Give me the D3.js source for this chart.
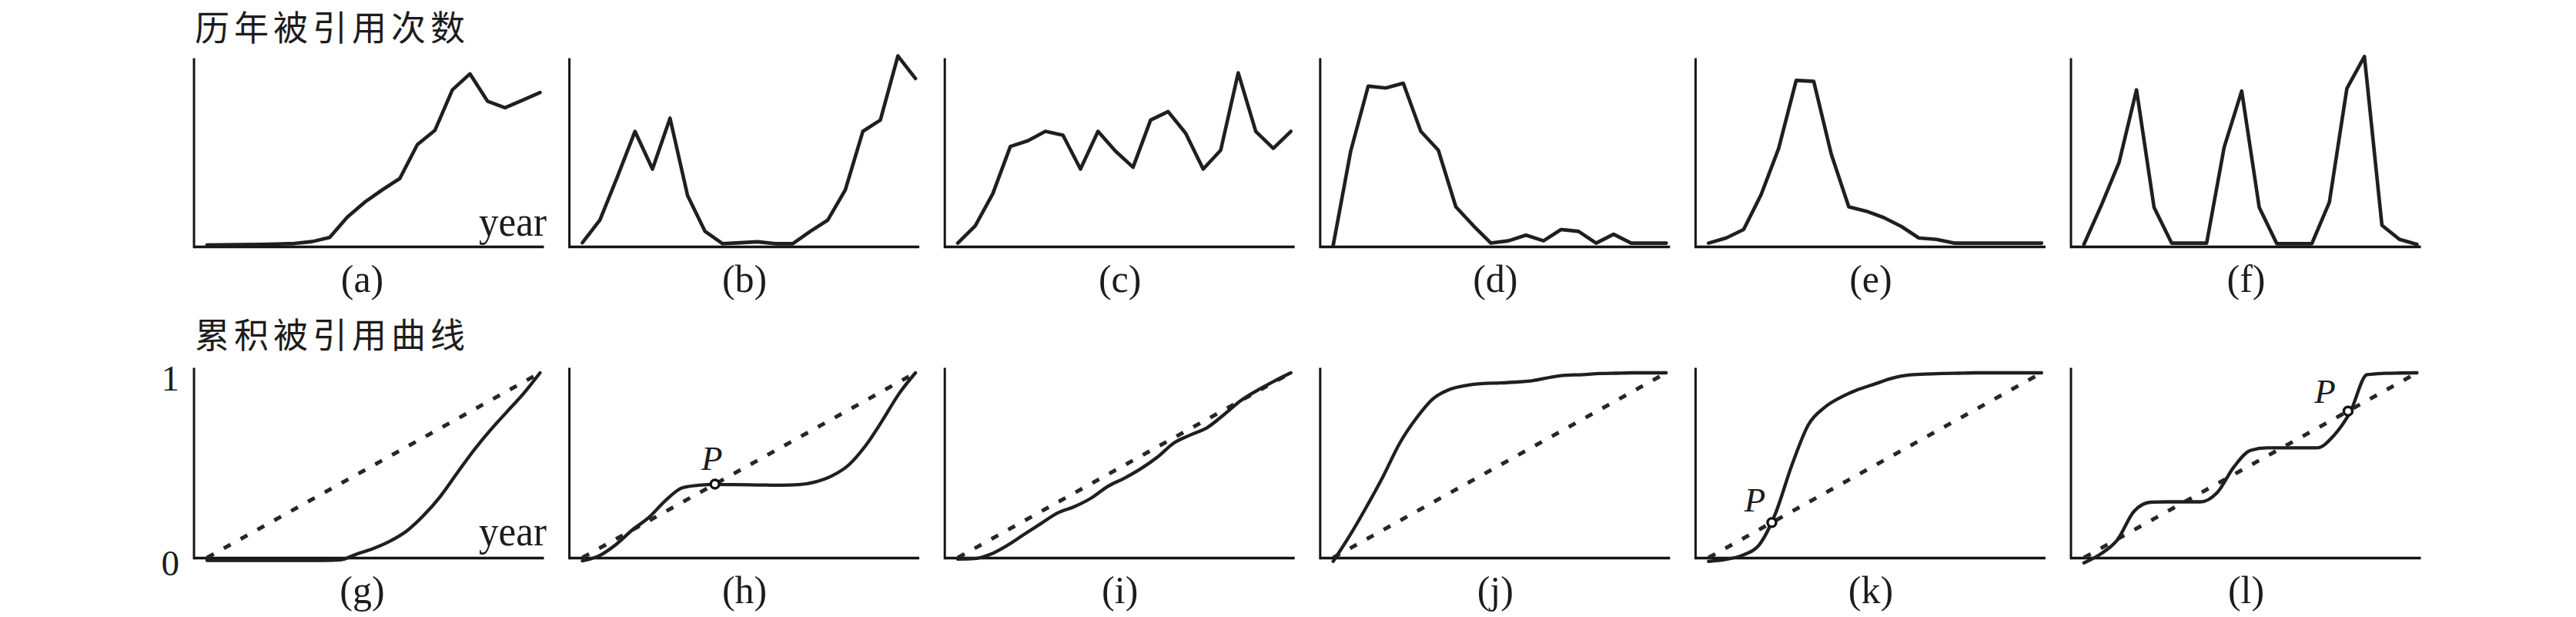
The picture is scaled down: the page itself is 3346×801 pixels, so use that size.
<!DOCTYPE html>
<html>
<head>
<meta charset="utf-8">
<script src="https://cdn.jsdelivr.net/npm/d3@7"></script>
<style>
html,body{margin:0;padding:0;background:#fff;}
svg{display:block;}
</style>
</head>
<body>
<svg id="chart" width="3346" height="801"></svg>
<script>
// ---------------- data ----------------
const rowTitles = ['历年被引用次数', '累积被引用曲线'];
const topLetters = ['(a)', '(b)', '(c)', '(d)', '(e)', '(f)'];
const bottomLetters = ['(g)', '(h)', '(i)', '(j)', '(k)', '(l)'];
const axisWord = 'year';
const yTickValues = [0, 1];
const yTickLabels = ['0', '1'];

// yearly citations (relative, 0-100), 20 years each
const citesA = [0.8, 0.9, 1.0, 1.1, 1.3, 1.6, 2.6, 4.8, 15.5, 23.5, 30, 36, 54, 61.5, 83, 91.5, 77, 73.5, 77.5, 81.6];
const citesB = [2, 14, 37, 61, 41, 68, 27, 8, 1.5, 2, 2.5, 1.5, 1.5, 8, 14, 30, 61, 67, 101, 89];
const citesC = [1.8, 11, 28, 53, 56, 61, 59, 41, 61, 50.5, 42, 67, 71.5, 60, 41, 51, 92, 61, 52, 61];
const citesD = [0.5, 50.5, 85, 84, 86.5, 61, 51, 21, 11, 1.8, 3, 6, 3, 9, 8, 1.8, 6.5, 1.8, 1.8, 1.8];
const citesE = [1.8, 4.5, 9, 27.5, 52, 88, 87.5, 49, 21, 18.7, 15.3, 10.6, 4.5, 3.8, 1.8, 1.8, 1.8, 1.8, 1.8, 1.8];
const citesF = [1.1, 22, 44.4, 83, 20.7, 1.8, 1.8, 1.8, 52.6, 82.4, 20.7, 1.5, 1.5, 1.5, 23.4, 83.7, 100.7, 11.2, 3.8, 1.1];

// cumulative share of citations (0-1), sampled at 21 evenly spaced points of the time span
const cumG = [-0.015, -0.015, -0.015, -0.015, -0.015, -0.015, -0.015, -0.015, -0.012, 0.02, 0.05, 0.09, 0.145, 0.228, 0.33, 0.455, 0.578, 0.688, 0.788, 0.887, 1.0];
const cumH = [-0.017, 0.01, 0.07, 0.15, 0.218, 0.31, 0.378, 0.392, 0.396, 0.395, 0.394, 0.393, 0.392, 0.395, 0.41, 0.443, 0.502, 0.605, 0.74, 0.885, 1.0];
const cumI = [-0.008, -0.005, 0.02, 0.068, 0.127, 0.185, 0.242, 0.276, 0.322, 0.385, 0.43, 0.482, 0.545, 0.622, 0.665, 0.705, 0.775, 0.85, 0.906, 0.955, 1.0];
const cumJ = [-0.02, 0.12, 0.275, 0.44, 0.62, 0.755, 0.86, 0.91, 0.932, 0.942, 0.945, 0.95, 0.958, 0.975, 0.987, 0.99, 0.996, 0.998, 1.0, 1.0, 1.0];
const cumK = [-0.02, -0.01, 0.012, 0.065, 0.235, 0.5, 0.72, 0.815, 0.87, 0.91, 0.94, 0.97, 0.988, 0.993, 0.996, 0.998, 1, 1, 1, 1, 1];
const cumL = [-0.028, 0.02, 0.095, 0.25, 0.3, 0.302, 0.302, 0.302, 0.352, 0.49, 0.58, 0.594, 0.594, 0.594, 0.594, 0.66, 0.79, 0.99, 0.997, 0.999, 1];

// equal-share reference line (dashed)
const refLine = [0, 1];

// marked crossing points P: panel index in the bottom row and time share
const pPanels = [1, 4, 5];
const pShares = [0.398, 0.19, 0.793];
const pLabel = 'P';

const topSeries = [citesA, citesB, citesC, citesD, citesE, citesF];
const bottomSeries = [cumG, cumH, cumI, cumJ, cumK, cumL];

// ---------------- layout ----------------
const svg = d3.select('#chart');
const panelW = 453;
const panelLeft = d3.scaleLinear().domain([0, 5]).range([253, 2691]);
const rows = [
  {top: 75, bottom: 320, titleY: 53},
  {top: 477, bottom: 724, titleY: 452}
];
const ink = '#1f1f1f';
const serif = '"Liberation Serif", "Times New Roman", serif';
const cjk = '"Noto Sans CJK SC", "Noto Sans CJK TC", sans-serif';
const pOffsets = [[-4, -18], [-22, -14], [-30, -11]];

// row titles
rowTitles.forEach((t, r) => {
  svg.append('text')
    .attr('x', 253).attr('y', rows[r].titleY)
    .attr('font-family', cjk).attr('font-size', 45)
    .attr('letter-spacing', '6px')
    .attr('fill', '#1c1c1c')
    .text(t);
});

function drawAxes(g, xAxisScale, yAxisScale, row) {
  g.append('g')
    .attr('transform', `translate(0,${row.bottom})`)
    .call(d3.axisBottom(xAxisScale).tickValues([]).tickSizeOuter(0))
    .call(s => s.select('.domain').attr('stroke', '#141414').attr('stroke-width', 3.4));
  g.append('g')
    .attr('transform', `translate(${xAxisScale.range()[0]},0)`)
    .call(d3.axisLeft(yAxisScale).tickValues([]).tickSizeOuter(0))
    .call(s => s.select('.domain').attr('stroke', '#141414').attr('stroke-width', 3));
}

// ---------------- top row ----------------
topSeries.forEach((vals, i) => {
  const row = rows[0];
  const x0 = panelLeft(i);
  const g = svg.append('g');
  const xAxisScale = d3.scaleLinear().domain([0, 1]).range([x0 - 1.5, x0 + panelW]);
  const yAxisScale = d3.scaleLinear().domain([0, 1]).range([row.bottom + 1.7, row.top]);
  drawAxes(g, xAxisScale, yAxisScale, row);

  const x = d3.scaleLinear().domain([0, vals.length - 1])
    .range([x0 + 0.035 * panelW, x0 + 0.99 * panelW]);
  const y = d3.scaleLinear().domain([0, 100]).range([row.bottom, row.top]);
  const line = d3.line().x((d, k) => x(k)).y(d => y(d)).curve(d3.curveLinear);
  g.append('path').datum(vals)
    .attr('d', line)
    .attr('fill', 'none').attr('stroke', ink)
    .attr('stroke-width', 4.6).attr('stroke-linejoin', 'round').attr('stroke-linecap', 'round');

  g.append('text')
    .attr('x', x0 + panelW / 2 - (i === 0 ? 9 : 0)).attr('y', 379)
    .attr('text-anchor', 'middle')
    .attr('font-family', serif).attr('font-size', 50)
    .attr('fill', '#1c1c1c')
    .text(topLetters[i]);
  if (i === 0) {
    g.append('text')
      .attr('x', x0 + panelW + 4).attr('y', 306)
      .attr('text-anchor', 'end')
      .attr('font-family', serif).attr('font-size', 55)
      .attr('textLength', 88).attr('lengthAdjust', 'spacingAndGlyphs')
      .attr('fill', '#1c1c1c')
      .text(axisWord);
  }
});

// ---------------- bottom row ----------------
bottomSeries.forEach((vals, i) => {
  const row = rows[1];
  const x0 = panelLeft(i);
  const g = svg.append('g');
  const xAxisScale = d3.scaleLinear().domain([0, 1]).range([x0 - 1.5, x0 + panelW]);
  const y = d3.scaleLinear().domain([0, 1]).range([row.bottom, 484]);
  const yAxisScale = d3.scaleLinear().domain([y.invert(row.bottom + 1.7), y.invert(row.top)]).range([row.bottom + 1.7, row.top]);
  drawAxes(g, xAxisScale, yAxisScale, row);

  if (i === 0) {
    const ax = g.append('g')
      .attr('transform', `translate(${x0},0)`)
      .call(d3.axisLeft(y).tickValues(yTickValues).tickSize(0).tickPadding(20)
        .tickFormat((d, k) => yTickLabels[k]));
    ax.select('.domain').remove();
    ax.selectAll('text')
      .attr('font-family', serif).attr('font-size', 47).attr('fill', '#1c1c1c')
      .attr('dy', '0.47em');
  }

  const x = d3.scaleLinear().domain([0, 1])
    .range([x0 + 0.035 * panelW, x0 + 0.99 * panelW]);
  const n = vals.length - 1;

  // dashed reference diagonal
  const refLineGen = d3.line().x(d => x(d)).y(d => y(d));
  g.append('path').datum(refLine)
    .attr('d', refLineGen)
    .attr('fill', 'none').attr('stroke', '#262626')
    .attr('stroke-width', 5).attr('stroke-dasharray', '10,15');

  const line = d3.line().x((d, k) => x(k / n)).y(d => y(d)).curve(d3.curveMonotoneX);
  g.append('path').datum(vals)
    .attr('d', line)
    .attr('fill', 'none').attr('stroke', ink)
    .attr('stroke-width', 4.3).attr('stroke-linejoin', 'round').attr('stroke-linecap', 'round');

  const pIdx = pPanels.indexOf(i);
  if (pIdx >= 0) {
    const s = pShares[pIdx];
    const cx = x(s), cy = y(s);
    g.append('circle')
      .attr('cx', cx).attr('cy', cy).attr('r', 5.5)
      .attr('fill', '#fff').attr('stroke', '#111').attr('stroke-width', 3.4);
    g.append('text')
      .attr('x', cx + pOffsets[pIdx][0]).attr('y', cy + pOffsets[pIdx][1])
      .attr('text-anchor', 'middle')
      .attr('font-family', serif).attr('font-style', 'italic').attr('font-size', 45)
      .attr('fill', '#1c1c1c')
      .text(pLabel);
  }

  g.append('text')
    .attr('x', x0 + panelW / 2 - (i === 0 ? 9 : 0)).attr('y', 783)
    .attr('text-anchor', 'middle')
    .attr('font-family', serif).attr('font-size', 50)
    .attr('fill', '#1c1c1c')
    .text(bottomLetters[i]);
  if (i === 0) {
    g.append('text')
      .attr('x', x0 + panelW + 4).attr('y', 708)
      .attr('text-anchor', 'end')
      .attr('font-family', serif).attr('font-size', 55)
      .attr('textLength', 88).attr('lengthAdjust', 'spacingAndGlyphs')
      .attr('fill', '#1c1c1c')
      .text(axisWord);
  }
});
</script>
</body>
</html>
